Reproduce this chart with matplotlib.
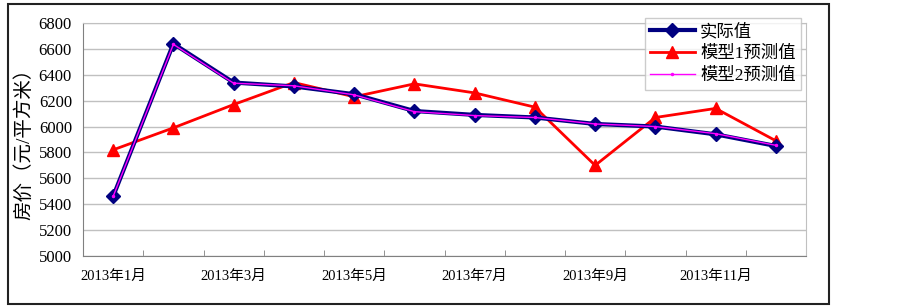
import matplotlib.pyplot as plt
from matplotlib.patches import Rectangle

# monthly house prices 2013
months = ["2013年%d月" % m for m in range(1, 13)]
actual = [5460, 6640, 6340, 6310, 6250, 6120, 6090, 6070, 6020, 6000, 5940, 5850]
model1 = [5820, 5990, 6170, 6340, 6230, 6330, 6260, 6150, 5700, 6070, 6140, 5890]
model2 = [5460, 6635, 6335, 6315, 6245, 6115, 6085, 6070, 6020, 6000, 5945, 5855]

fonts = ["Liberation Serif", "Noto Sans CJK SC"]
plt.rcParams["font.family"] = fonts

fig = plt.figure(figsize=(9.02, 3.08), dpi=100)
ax = fig.add_axes([83 / 902, 1 - 256 / 308, (806 - 83) / 902, (256 - 23) / 308])

x = list(range(len(months)))
ax.plot(x, actual, color="#000080", lw=3, marker="D", ms=7, label="实际值", zorder=3)
ax.plot(x, model1, color="red", lw=2, marker="^", ms=8, label="模型1预测值", zorder=2)
ax.plot(x, model2, color="magenta", lw=1, marker=".", ms=3, label="模型2预测值", zorder=4)

ax.set_xlim(-0.5, 11.5)
ax.set_ylim(5000, 6800)
ax.set_yticks(range(5000, 6801, 200))
ax.tick_params(axis="y", length=0, labelsize=12, pad=8)
ax.set_xticks(x[::2])
ax.set_xticklabels(months[::2])
ax.tick_params(axis="x", length=0, labelsize=10.5, pad=10)
ax.set_xticks([i + 0.5 for i in range(11)], minor=True)
ax.tick_params(axis="x", which="minor", direction="in", length=4, color="#808080")
ax.grid(axis="y", color="#c0c0c0", lw=1)
ax.set_axisbelow(True)
for s in ax.spines.values():
    s.set_color("#c0c0c0")
ax.spines["left"].set_color("#808080")
ax.spines["bottom"].set_color("#808080")

ax.set_ylabel("房价（元/平方米）", fontsize=14, labelpad=4)

leg = ax.legend(loc="upper right", bbox_to_anchor=(801 / 902, 1 - 18 / 308),
                bbox_transform=fig.transFigure, fontsize=12.5, frameon=True,
                fancybox=False, edgecolor="#c0c0c0", borderpad=0.3,
                labelspacing=0.35, handlelength=2.6, handletextpad=0.3,
                borderaxespad=0)
leg.get_frame().set_linewidth(1)

fig.patches.append(Rectangle((8 / 902, 1 - 304 / 308), (829 - 8) / 902, 300 / 308,
                             transform=fig.transFigure, fill=False,
                             edgecolor="#222222", lw=1.5))

fig.savefig("out.png", dpi=100)
